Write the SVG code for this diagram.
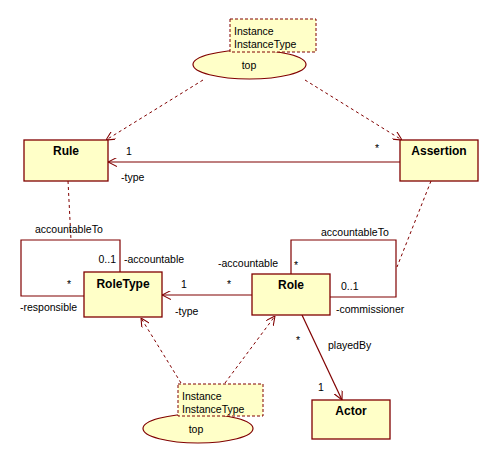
<svg xmlns="http://www.w3.org/2000/svg" width="499" height="464" viewBox="0 0 499 464">
<defs>
<marker id="open" viewBox="0 0 10 10" refX="10" refY="5" markerWidth="9" markerHeight="9" markerUnits="userSpaceOnUse" orient="auto">
<path d="M0,0 L10,5 L0,10" fill="none" stroke="#800000" stroke-width="1.2"/>
</marker>
</defs>
<style>
.box{fill:#ffffc8;stroke:#800000;stroke-width:1.3}
.note{fill:#ffffc8;stroke:#800000;stroke-width:1;stroke-dasharray:3,2}
.ell{fill:#ffffc8;stroke:#800000;stroke-width:1.2}
.title{font-family:"Liberation Sans",Arial,sans-serif;font-size:12px;font-weight:bold;fill:#000;text-anchor:middle}
.t{font-family:"Liberation Sans",Arial,sans-serif;font-size:10.5px;fill:#000}
.solid{fill:none;stroke:#800000;stroke-width:1.2}
.dash{fill:none;stroke:#800000;stroke-width:1;stroke-dasharray:3,3}
</style>
<rect width="499" height="464" fill="#fff"/>
<g id="connectors">
<line class="dash" x1="203" y1="80" x2="106" y2="140" marker-end="url(#open)"/>
<line class="dash" x1="305" y1="80" x2="402" y2="140" marker-end="url(#open)"/>
<line class="solid" x1="400" y1="162" x2="108" y2="162" marker-end="url(#open)"/>
<line class="dash" x1="68" y1="181" x2="71" y2="240"/>
<polyline class="solid" points="84,296 21,296 21,240 120,240 120,272"/>
<line class="solid" x1="252" y1="295" x2="162" y2="295" marker-end="url(#open)"/>
<polyline class="solid" points="291,274 291,240 396,240 396,297 330,297"/>
<line class="dash" x1="431" y1="181" x2="397" y2="267"/>
<line class="solid" x1="302" y1="315" x2="342" y2="400" marker-end="url(#open)"/>
<line class="dash" x1="181" y1="383" x2="141" y2="318" marker-end="url(#open)"/>
<line class="dash" x1="225" y1="383" x2="275" y2="316" marker-end="url(#open)"/>
<text class="t" x="126" y="155">1</text>
<text class="t" x="121" y="181">-type</text>
<text class="t" x="375" y="152">*</text>
<text class="t" x="35" y="233">accountableTo</text>
<text class="t" x="116" y="263" text-anchor="end">0..1</text>
<text class="t" x="124" y="263">-accountable</text>
<text class="t" x="67" y="288">*</text>
<text class="t" x="20" y="311">-responsible</text>
<text class="t" x="181" y="288">1</text>
<text class="t" x="227" y="288">*</text>
<text class="t" x="175" y="315">-type</text>
<text class="t" x="218" y="267">-accountable</text>
<text class="t" x="321" y="236">accountableTo</text>
<text class="t" x="294" y="269">*</text>
<text class="t" x="341" y="290">0..1</text>
<text class="t" x="336" y="313">-commissioner</text>
<text class="t" x="296" y="344">*</text>
<text class="t" x="328" y="349">playedBy</text>
<text class="t" x="318" y="391">1</text>
</g>
<g id="rule"><rect class="box" x="24" y="140" width="84" height="41"/><text class="title" x="66" y="155">Rule</text></g>
<g id="assertion"><rect class="box" x="400" y="140" width="78" height="41"/><text class="title" x="439" y="155">Assertion</text></g>
<g id="roletype"><rect class="box" x="84" y="272" width="78" height="45"/><text class="title" x="123" y="288">RoleType</text></g>
<g id="role"><rect class="box" x="252" y="274" width="78" height="41"/><text class="title" x="291" y="289">Role</text></g>
<g id="actor"><rect class="box" x="312" y="400" width="78" height="39"/><text class="title" x="351" y="415">Actor</text></g>
<g id="top1">
<ellipse class="ell" cx="249.5" cy="64.5" rx="56.5" ry="14.5"/>
<text class="t" x="249" y="69" text-anchor="middle">top</text>
<rect class="note" x="230" y="19" width="86" height="33"/>
<text class="t" x="234" y="35">Instance</text>
<text class="t" x="234" y="48">InstanceType</text>
</g>
<g id="top2">
<ellipse class="ell" cx="198" cy="428.5" rx="55" ry="14.5"/>
<text class="t" x="196" y="433" text-anchor="middle">top</text>
<rect class="note" x="178" y="384" width="85" height="32"/>
<text class="t" x="182" y="400">Instance</text>
<text class="t" x="182" y="413">InstanceType</text>
</g>
</svg>
